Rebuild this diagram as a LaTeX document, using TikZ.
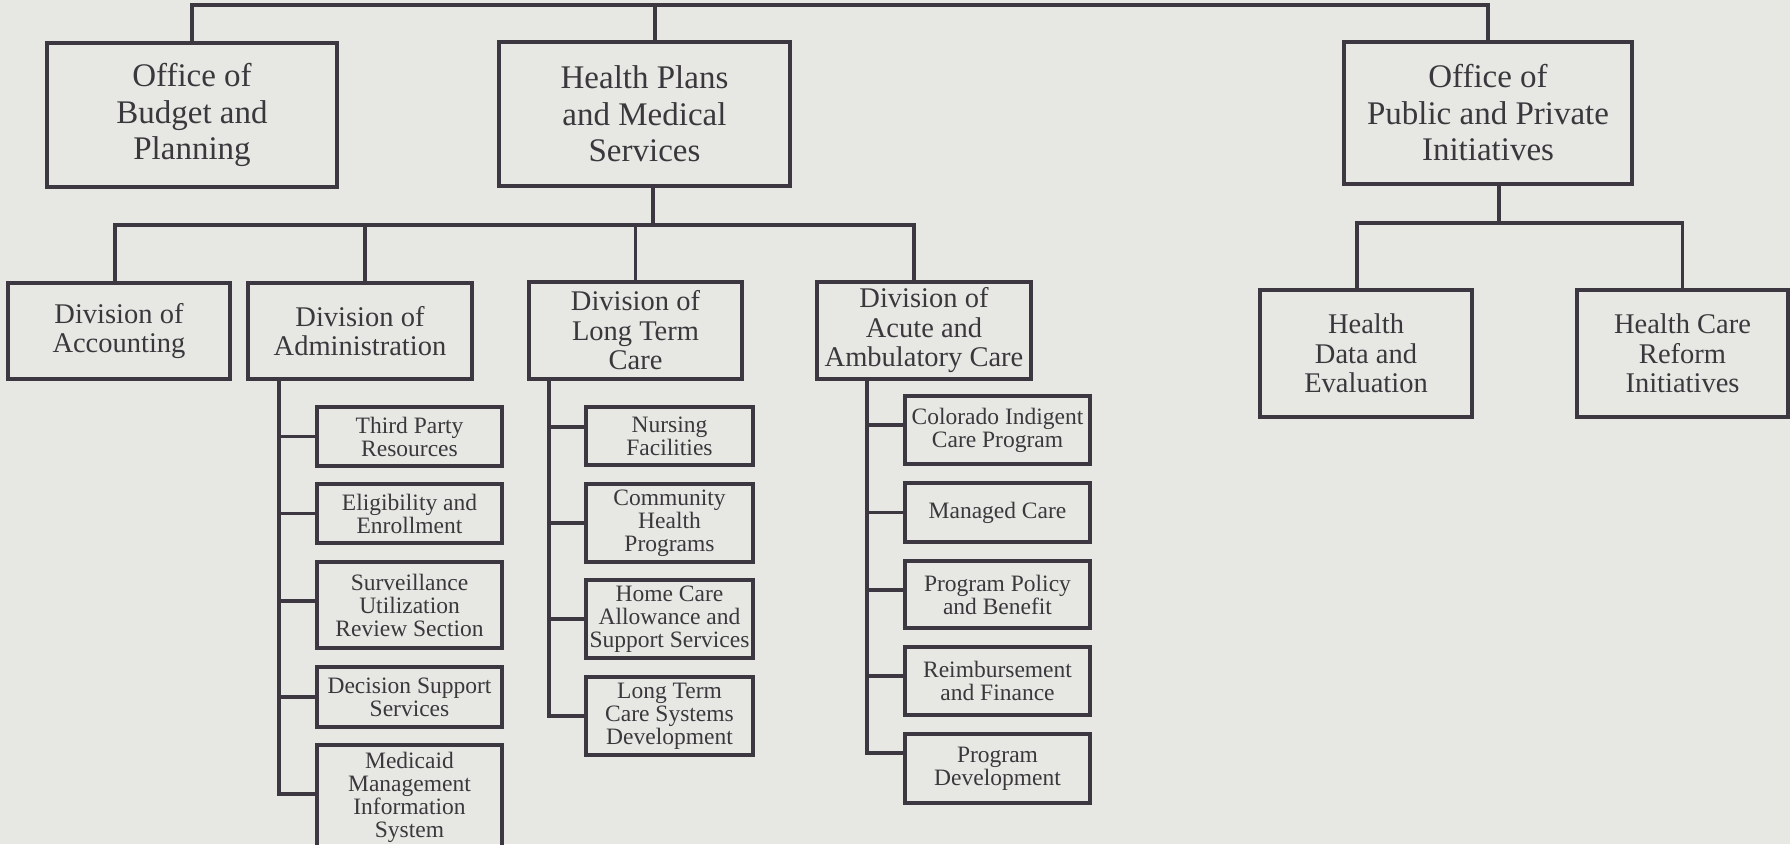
\documentclass[tikz,border=0pt]{standalone}
\usepackage{fontspec}
\setmainfont{Liberation Serif}
\definecolor{bgc}{RGB}{231,232,228}
\definecolor{linec}{RGB}{60,55,64}
\definecolor{textc}{RGB}{58,56,60}
\begin{document}
\begin{tikzpicture}[x=1pt,y=-1pt,
  box/.style={draw=linec, line width=3.4pt, inner sep=0pt, align=center, text=textc},
  topbox/.style={box, font=\fontsize{33}{36.5}\selectfont},
  midbox/.style={box, font=\fontsize{28.5}{29.5}\selectfont},
  subbox/.style={box, font=\fontsize{23.5}{23}\selectfont},
  conn/.style={draw=linec, line width=3.6pt, line cap=rect, line join=miter}]
\useasboundingbox (0,0) rectangle (1790,844);
\fill[bgc] (0,0) rectangle (1790,844);
\clip (0,0) rectangle (1790,844);

% top level
\node[topbox, minimum width=290pt, minimum height=144pt] (bud) at (192,115) {Office of\\Budget and\\Planning};
\node[topbox, minimum width=291pt, minimum height=144pt] (hp) at (644.5,114) {Health Plans\\and Medical\\Services};
\node[topbox, minimum width=288pt, minimum height=142pt] (opp) at (1488,113) {Office of\\Public and Private\\Initiatives};

% second level
\node[midbox, minimum width=222pt, minimum height=96pt] (acc) at (119,331) {Division of\\Accounting};
\node[midbox, minimum width=224pt, minimum height=96pt] (adm) at (360,331) {Division of\\Administration};
\node[midbox, minimum width=213pt, minimum height=97pt] (ltc) at (635.5,330.5) {Division of\\Long Term\\Care};
\node[midbox, minimum width=214pt, minimum height=97pt] (acu) at (924,330.5) {Division of\\Acute and\\Ambulatory Care};
\node[midbox, minimum width=212pt, minimum height=127pt] (hde) at (1366,353.5) {Health\\Data and\\Evaluation};
\node[midbox, minimum width=211pt, minimum height=127pt] (hcr) at (1682.5,353.5) {Health Care\\Reform\\Initiatives};

% administration units
\node[subbox, minimum width=185pt, minimum height=59pt] (tpr) at (409.5,436.5) {Third Party\\Resources};
\node[subbox, minimum width=185pt, minimum height=59pt] (ele) at (409.5,513.5) {Eligibility and\\Enrollment};
\node[subbox, minimum width=185pt, minimum height=86pt] (sur) at (409.5,605) {Surveillance\\Utilization\\Review Section};
\node[subbox, minimum width=185pt, minimum height=60pt] (dss) at (409.5,697) {Decision Support\\Services};
\node[subbox, minimum width=185pt, minimum height=104pt] (mmis) at (409.5,797) {Medicaid\\Management\\Information\\System};

% long term care units
\node[subbox, minimum width=167pt, minimum height=58pt] (nf) at (669.5,436) {Nursing\\Facilities};
\node[subbox, minimum width=167pt, minimum height=78pt] (chp) at (669.5,523) {Community\\Health\\Programs};
\node[subbox, minimum width=167pt, minimum height=78pt] (hca) at (669.5,619) {Home Care\\Allowance and\\Support Services};
\node[subbox, minimum width=167pt, minimum height=78pt] (lts) at (669.5,716) {Long Term\\Care Systems\\Development};

% acute care units
\node[subbox, minimum width=185pt, minimum height=68pt] (cic) at (997.5,430) {Colorado Indigent\\Care Program};
\node[subbox, minimum width=185pt, minimum height=59pt] (mc) at (997.5,512.5) {Managed Care};
\node[subbox, minimum width=185pt, minimum height=67pt] (ppb) at (997.5,594.5) {Program Policy\\and Benefit};
\node[subbox, minimum width=185pt, minimum height=68pt] (raf) at (997.5,681) {Reimbursement\\and Finance};
\node[subbox, minimum width=185pt, minimum height=69pt] (pd) at (997.5,768.5) {Program\\Development};

% helper coordinates
\coordinate (topbar) at (0,5);
\coordinate (hpx) at (655,5);
\coordinate (hpbus) at (653,225);
\coordinate (oppbus) at (1499,223);
\coordinate (admT) at (279,0);
\coordinate (ltcT) at (549,0);
\coordinate (acuT) at (867,0);
\path ([xshift=-4pt]acc.north) coordinate (accN);
\path ([xshift=5pt]adm.north) coordinate (admN);
\path ([xshift=-10pt]acu.north) coordinate (acuN);
\path ([xshift=-9pt]hde.north) coordinate (hdeN);
\path ([yshift=3pt]mmis.west) coordinate (mmisS);
\path ([yshift=4pt]sur.west) coordinate (surS);
\path ([yshift=9pt]nf.west) coordinate (nfS);
\path ([yshift=5pt]cic.west) coordinate (cicS);
\path ([yshift=4.5pt]ppb.west) coordinate (ppbS);
\path ([yshift=5pt]raf.west) coordinate (rafS);
\path ([yshift=15.5pt]pd.west) coordinate (pdS);

% top connectors
\draw[conn] (bud.north) -- (bud.north |- topbar) -| (opp.north);
\draw[conn] (hpx) -- (hpx |- hp.north);

% second level connectors
\draw[conn] (hpbus |- hp.south) -- (hpbus);
\draw[conn] (accN) |- (hpbus) -| (acuN);
\draw[conn] (admN) -- (admN |- hpbus);
\draw[conn] (ltc.north) -- (ltc.north |- hpbus);
\draw[conn] (oppbus |- opp.south) -- (oppbus);
\draw[conn] (hdeN) |- (oppbus) -| (hcr.north);

% administration trunk
\draw[conn] (admT |- adm.south) |- (mmisS);
\draw[conn] (admT |- tpr.west) -- (tpr.west);
\draw[conn] (admT |- ele.west) -- (ele.west);
\draw[conn] (admT |- surS) -- (surS);
\draw[conn] (admT |- dss.west) -- (dss.west);

% long term care trunk
\draw[conn] (ltcT |- ltc.south) |- (lts.west);
\draw[conn] (ltcT |- nfS) -- (nfS);
\draw[conn] (ltcT |- chp.west) -- (chp.west);
\draw[conn] (ltcT |- hca.west) -- (hca.west);

% acute care trunk
\draw[conn] (acuT |- acu.south) |- (pdS);
\draw[conn] (acuT |- cicS) -- (cicS);
\draw[conn] (acuT |- mc.west) -- (mc.west);
\draw[conn] (acuT |- ppbS) -- (ppbS);
\draw[conn] (acuT |- rafS) -- (rafS);
\end{tikzpicture}
\end{document}
